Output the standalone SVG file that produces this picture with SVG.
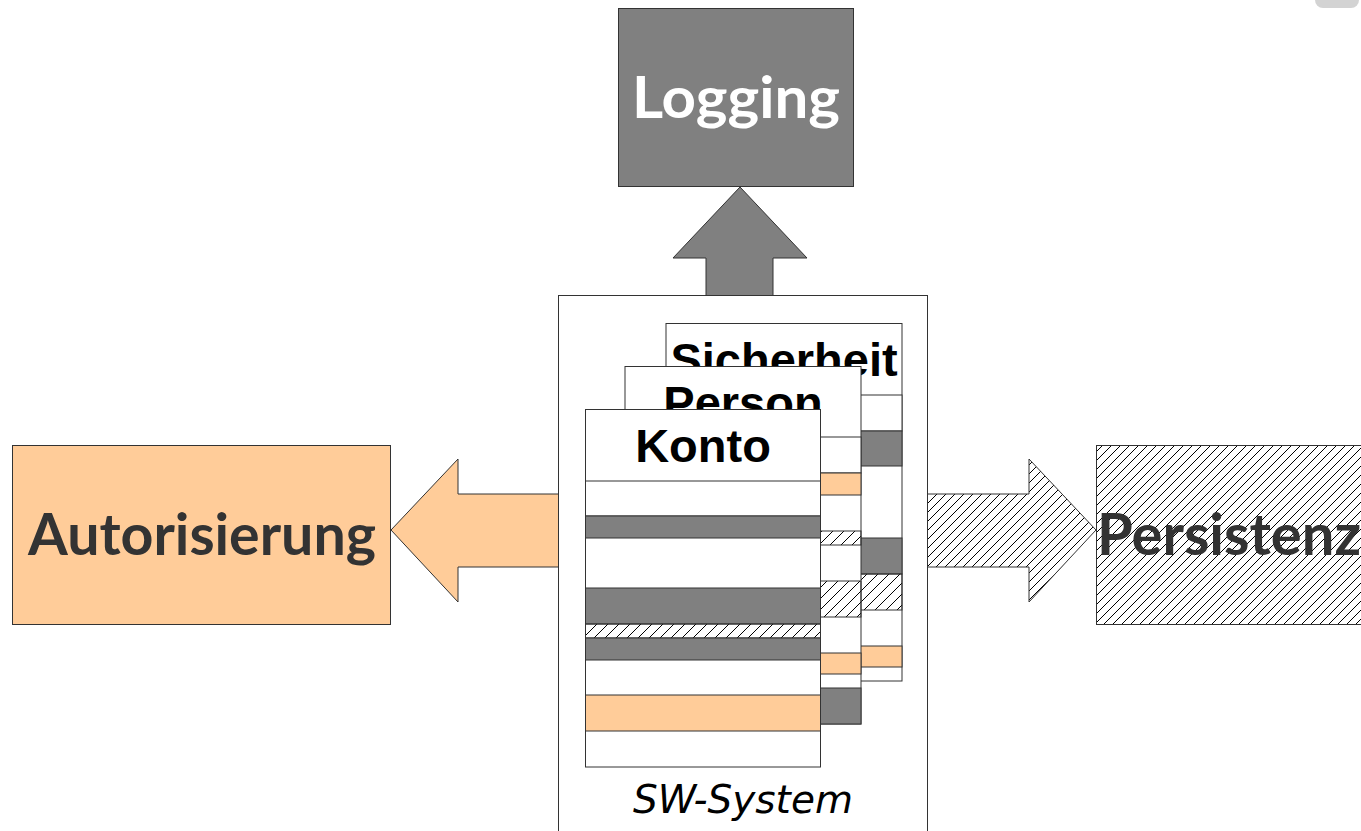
<svg xmlns="http://www.w3.org/2000/svg" width="1361" height="831" viewBox="0 0 1361 831">
<defs>
<pattern id="hatch9" patternUnits="userSpaceOnUse" width="9" height="9">
<path d="M0,9 L9,0 M-1,1 L1,-1 M8,10 L10,8" stroke="#000" stroke-width="1"/>
</pattern>
<pattern id="hatch11" patternUnits="userSpaceOnUse" width="11" height="11">
<path d="M0,11 L11,0 M-1,1 L1,-1 M10,12 L12,10" stroke="#000" stroke-width="1"/>
</pattern>
<style>
.box{stroke:#333;stroke-width:1}
.grey{fill:#808080;stroke:#333;stroke-width:1}
.peach{fill:#ffcc99;stroke:#333;stroke-width:1}
.white{fill:#fff;stroke:#333;stroke-width:1}
.hatch{fill:url(#hatch11);stroke:#333;stroke-width:1}
.big{font-family:Lato,"Open Sans",sans-serif;font-weight:bold;font-size:58px}
.card{font-family:"Liberation Sans",Arial,sans-serif;font-weight:bold;font-size:47px;text-anchor:middle;fill:#000}
</style>
</defs>
<rect x="1315" y="-10" width="44" height="18" rx="8" fill="#d3d3d3"/>

<g id="logging">
<rect x="618.5" y="8.5" width="235" height="178" fill="#808080" class="box"/>
<text x="632" y="118" class="big" fill="#fff" textLength="208" lengthAdjust="spacingAndGlyphs">Logging</text>
</g>

<g id="autorisierung">
<rect x="12.5" y="445.5" width="378" height="179" class="peach"/>
<text x="28" y="555" class="big" fill="#333" textLength="348" lengthAdjust="spacingAndGlyphs">Autorisierung</text>
</g>

<g id="persistenz">
<rect x="1096.5" y="445.5" width="280" height="179" fill="url(#hatch9)" class="box"/>
<text x="1097" y="555" class="big" fill="#333" textLength="264" lengthAdjust="spacingAndGlyphs">Persistenz</text>
</g>

<g id="sw-system">
<rect x="558.5" y="295.5" width="369" height="560" fill="#fff" class="box"/>
<text x="743" y="813" font-family="DejaVu Sans,sans-serif" font-style="italic" font-size="39" text-anchor="middle" fill="#000">SW-System</text>
</g>

<g id="sicherheit">
<rect x="666" y="323.5" width="236" height="357.5" class="white"/>
<text x="784" y="376" class="card">Sicherheit</text>
<rect x="666" y="395" width="236" height="36" class="white"/>
<rect x="666" y="431" width="236" height="35" class="grey"/>
<rect x="666" y="538" width="236" height="36" class="grey"/>
<rect x="666" y="574" width="236" height="36" class="hatch"/>
<rect x="666" y="646" width="236" height="21" class="peach"/>
</g>

<g id="person">
<rect x="625" y="366.5" width="236" height="357.5" class="white"/>
<text x="743" y="419" class="card">Person</text>
<rect x="625" y="437" width="236" height="36" class="white"/>
<rect x="625" y="473" width="236" height="22" class="peach"/>
<rect x="625" y="531" width="236" height="14" class="hatch"/>
<rect x="625" y="581" width="236" height="36" class="hatch"/>
<rect x="625" y="653" width="236" height="21" class="peach"/>
<rect x="625" y="688" width="236" height="36" class="grey"/>
</g>

<g id="konto">
<rect x="585.5" y="409.5" width="235" height="357.5" class="white"/>
<text x="703" y="462" class="card">Konto</text>
<rect x="585.5" y="481" width="235" height="35" class="white"/>
<rect x="585.5" y="516" width="235" height="22" class="grey"/>
<rect x="585.5" y="588" width="235" height="36" class="grey"/>
<rect x="585.5" y="624" width="235" height="14" class="hatch"/>
<rect x="585.5" y="638" width="235" height="22" class="grey"/>
<rect x="585.5" y="695" width="235" height="36" class="peach"/>
</g>

<g id="connectors">
<polygon points="740,187 807,258 773,258 773,295.5 706,295.5 706,258 673,258" fill="#808080" stroke="#333" stroke-width="1"/>
<polygon points="391,530 458,459 458,494 558.5,494 558.5,567 458,567 458,602" fill="#ffcc99" stroke="#333" stroke-width="1"/>
<polygon points="927.5,494 1029,494 1029,459 1096,530 1029,602 1029,567 927.5,567" fill="url(#hatch9)" stroke="#333" stroke-width="1"/>
</g>
</svg>
